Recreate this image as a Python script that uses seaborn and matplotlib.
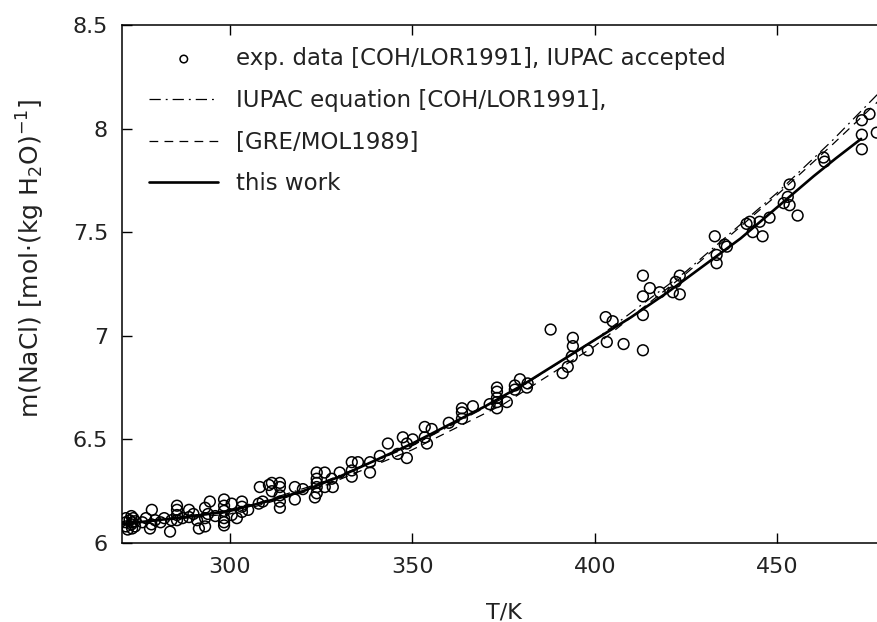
import matplotlib
matplotlib.use("Agg")
import matplotlib.pyplot as plt
import seaborn as sns
import pandas as pd
from matplotlib.ticker import FormatStrFormatter, MultipleLocator

exp_T = [271.5, 271.5, 271.5, 272.0, 272.5, 273.0, 273.0, 273.2, 273.2, 273.5, 274.0, 274.0,
         276.0, 277.0, 278.6, 278.1, 278.5, 279.5, 281.0, 282.0, 283.6, 284.0, 285.5, 285.5,
         285.5, 285.5, 287.0, 288.8, 288.8, 290.0, 291.5, 291.0, 293.2, 293.2, 293.2, 294.5,
         294.0, 296.0, 298.4, 298.4, 298.4, 298.4, 298.4, 298.4, 300.5, 300.5, 301.9, 303.3,
         303.3, 303.3, 305.0, 307.9, 308.2, 310.7, 309.0,
         311.5, 311.5, 313.7, 313.7, 313.7, 313.7, 313.7, 317.8, 317.8, 320.0, 323.3, 323.8,
         323.8, 323.8, 323.8, 323.8, 326.0, 326.0, 327.9, 328.2, 330.1, 333.4, 333.4, 333.4,
         335.1, 338.4, 338.4, 341.1, 343.3, 346.0, 347.4, 348.5, 348.5,
         350.1, 353.4, 353.4, 354.0, 355.3, 360.0, 363.6, 363.6, 363.6, 366.6, 371.2, 373.2,
         373.2, 373.2, 373.2, 373.2, 375.9, 378.1, 378.1, 379.5, 381.4, 381.6,
         387.9, 391.2, 392.6, 393.7, 394.0, 394.0, 398.1, 403.0, 403.3, 404.9, 407.9, 413.2,
         413.2, 413.2, 413.2, 415.1, 417.8, 421.4, 422.2, 423.3, 423.3, 432.9, 433.4, 433.4,
         435.6, 436.2,
         441.6, 442.5, 443.3, 445.2, 446.0, 447.9, 451.8, 452.9, 453.4, 453.4, 455.6, 462.7,
         463.0, 473.2, 473.2, 473.2, 475.3, 477.3]
exp_m = [6.12, 6.10, 6.08, 6.065, 6.11, 6.13, 6.09, 6.07, 6.10, 6.12, 6.08, 6.105,
         6.10, 6.12, 6.16, 6.07, 6.09, 6.11, 6.10, 6.12, 6.055, 6.11, 6.18, 6.16,
         6.135, 6.11, 6.12, 6.16, 6.125, 6.14, 6.07, 6.11, 6.08, 6.12, 6.17, 6.20,
         6.14, 6.13, 6.21, 6.18, 6.155, 6.12, 6.10, 6.085, 6.19, 6.135, 6.12, 6.20,
         6.175, 6.15, 6.16, 6.19, 6.27, 6.28, 6.20,
         6.29, 6.25, 6.29, 6.27, 6.23, 6.20, 6.17, 6.27, 6.21, 6.26, 6.22, 6.34,
         6.31, 6.29, 6.27, 6.24, 6.34, 6.27, 6.31, 6.27, 6.34, 6.39, 6.35, 6.32,
         6.39, 6.39, 6.34, 6.42, 6.48, 6.43, 6.51, 6.48, 6.41,
         6.50, 6.56, 6.51, 6.48, 6.55, 6.58, 6.65, 6.63, 6.60, 6.66, 6.67, 6.75,
         6.73, 6.70, 6.68, 6.65, 6.68, 6.76, 6.74, 6.79, 6.75, 6.77,
         7.03, 6.82, 6.85, 6.90, 6.99, 6.95, 6.93, 7.09, 6.97, 7.07, 6.96, 7.29,
         7.19, 7.10, 6.93, 7.23, 7.21, 7.21, 7.26, 7.29, 7.20, 7.48, 7.39, 7.35,
         7.44, 7.43,
         7.54, 7.55, 7.50, 7.55, 7.48, 7.57, 7.64, 7.67, 7.73, 7.63, 7.58, 7.86,
         7.84, 8.04, 7.97, 7.90, 8.07, 7.98]

# IUPAC equation [COH/LOR1991]
iupac_T = [270, 300, 325, 350, 375, 400, 425, 450, 465, 480]
iupac_m = [6.09, 6.15, 6.29, 6.47, 6.70, 6.98, 7.31, 7.69, 7.94, 8.21]

# [GRE/MOL1989]
gre_T = [270, 300, 325, 350, 375, 400, 425, 450, 465, 480]
gre_m = [6.09, 6.14, 6.27, 6.45, 6.67, 6.95, 7.30, 7.68, 7.92, 8.17]

# this work
work_T = [270, 280, 290, 300, 310, 320, 330, 340, 350, 360, 370, 380, 390, 400, 410,
          420, 430, 440, 450, 460, 466, 473]
work_m = [6.09, 6.11, 6.13, 6.155, 6.20, 6.25, 6.32, 6.40, 6.48, 6.57, 6.66, 6.76, 6.87,
          6.98, 7.09, 7.21, 7.34, 7.47, 7.62, 7.77, 7.855, 7.95]

sns.set_style("ticks")
plt.rcParams['font.family'] = ['DejaVu Sans']
plt.rcParams['text.color'] = '#222222'
plt.rcParams['axes.labelcolor'] = '#222222'

fig = plt.figure(figsize=(8.77, 6.22), dpi=100)
ax = fig.add_axes([0.139, 0.127, 0.872, 0.833])

exp_df = pd.DataFrame({'T': exp_T, 'm': exp_m})
sns.scatterplot(data=exp_df, x='T', y='m', ax=ax, marker='o', s=60,
                facecolor='none', edgecolor='black', linewidth=1.1,
                label='exp. data [COH/LOR1991], IUPAC accepted', zorder=3)

l1 = sns.lineplot(x=iupac_T, y=iupac_m, ax=ax, color='black', lw=0.9,
                  label='IUPAC equation [COH/LOR1991],').lines[-1]
l1.set_dashes((9, 4, 1.5, 4))
l2 = sns.lineplot(x=gre_T, y=gre_m, ax=ax, color='black', lw=0.9,
                  label='[GRE/MOL1989]').lines[-1]
l2.set_dashes((7, 5))
sns.lineplot(x=work_T, y=work_m, ax=ax, color='black', lw=1.9, label='this work')

ax.set_xlim(270.4, 480)
ax.set_ylim(6, 8.5)
ax.xaxis.set_major_locator(MultipleLocator(50))
ax.yaxis.set_major_locator(MultipleLocator(0.5))
ax.yaxis.set_major_formatter(FormatStrFormatter('%g'))
ax.tick_params(direction='in', length=7.5, width=1, top=True, right=True,
               labelsize=16, colors='black', labelcolor='#222222')
ax.tick_params(axis='x', pad=10)
ax.tick_params(axis='y', pad=10)
for sp in ax.spines.values():
    sp.set_linewidth(1.1)
    sp.set_color('black')

ax.set_xlabel('T/K', fontsize=16)
ax.xaxis.set_label_coords(0.5, -0.115)
ax.set_ylabel('m(NaCl) [mol·(kg H$_2$O)$^{-1}$]', fontsize=18)
ax.yaxis.set_label_coords(-0.098, 0.55)

ax.legend(loc='upper left', bbox_to_anchor=(0.009, 0.997), frameon=False, fontsize=16.5,
          handlelength=3.0, handletextpad=0.8, labelspacing=0.82, scatterpoints=1,
          markerscale=0.7)

fig.savefig('out.png', dpi=100)
